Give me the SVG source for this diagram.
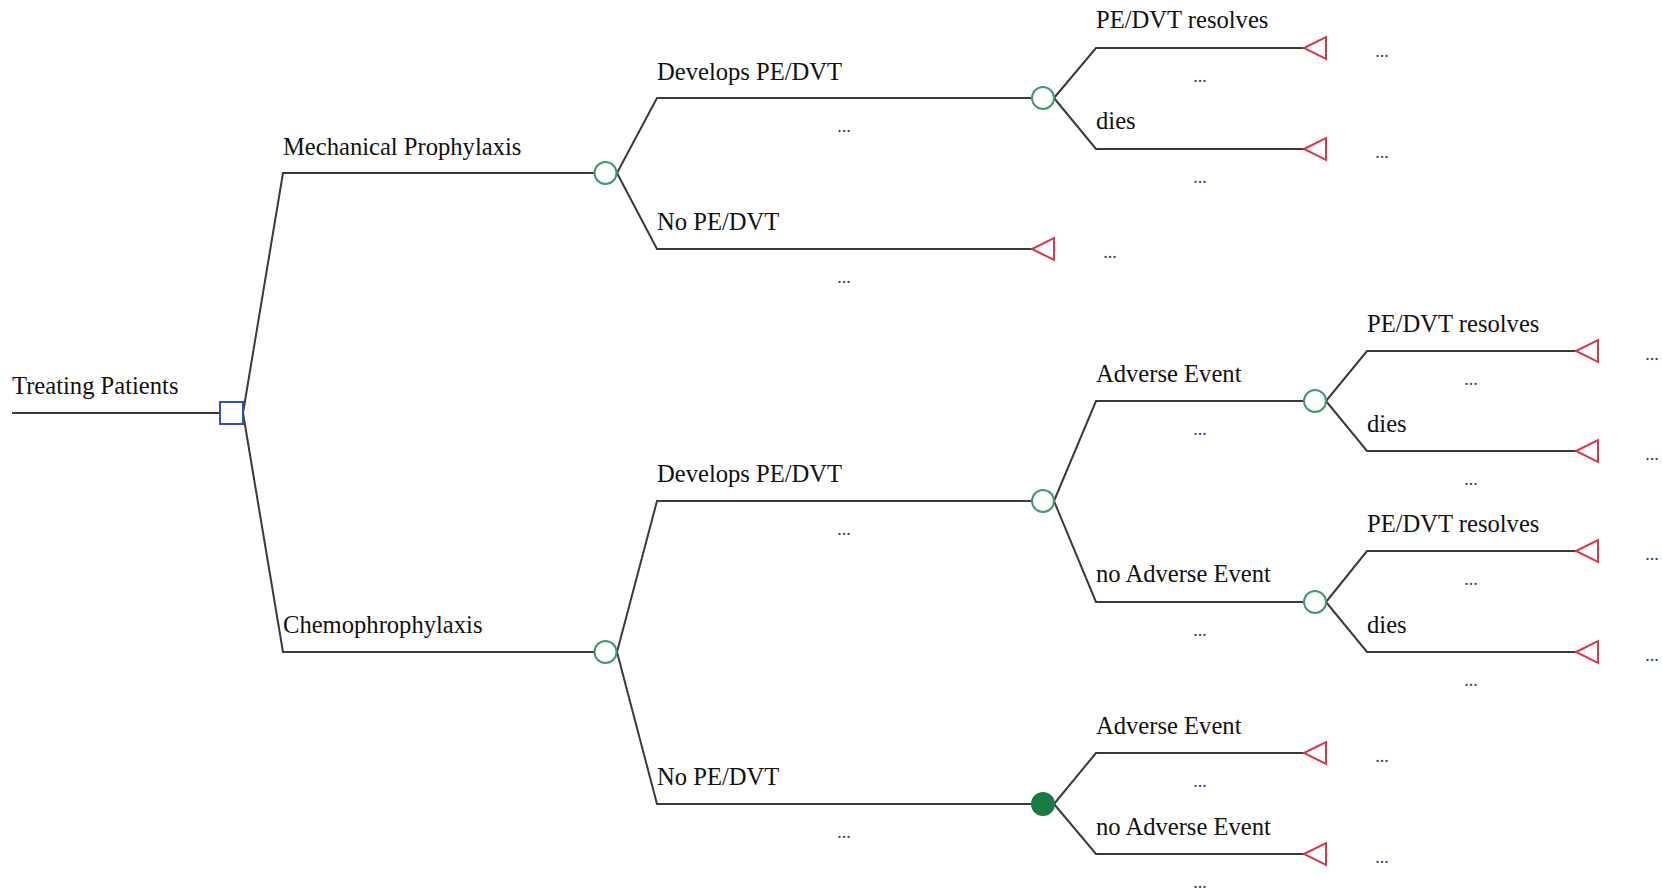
<svg xmlns="http://www.w3.org/2000/svg" width="1662" height="893" viewBox="0 0 1662 893">
  <style>
    .edge { fill: none; stroke: #3a3a3a; stroke-width: 2; stroke-linejoin: miter; }
    .decision { fill: #ffffff; stroke: #2b55b0; stroke-width: 2; }
    .chance { fill: #ffffff; stroke: #3d9a6c; stroke-width: 2; }
    .chance-fixed { fill: #197a45; stroke: #197a45; stroke-width: 2; }
    .terminal { fill: #ffffff; stroke: #d6394c; stroke-width: 2; stroke-linejoin: miter; }
    .label { font-family: "Liberation Serif", "Times New Roman", serif; font-size: 24.6px; fill: #111111; }
    .dots { font-family: "Liberation Serif", "Times New Roman", serif; font-size: 18px; fill: #2f3f5f; text-anchor: middle; }
  </style>
  <defs>
    <polygon id="tri" points="0,0 22,-11 22,11"/>
  </defs>
  <rect width="1662" height="893" fill="#ffffff"/>

  <!-- branches -->
  <g id="connectors">
    <path class="edge" d="M12,413 H220"/>
    <path class="edge" d="M243,413 L283,173 H594"/>
    <path class="edge" d="M243,413 L283,652 H594"/>
    <path class="edge" d="M617,173 L657,98 H1032"/>
    <path class="edge" d="M617,173 L657,249 H1032"/>
    <path class="edge" d="M617,652 L657,501 H1032"/>
    <path class="edge" d="M617,652 L657,804 H1032"/>
    <path class="edge" d="M1054,98 L1096,48 H1304"/>
    <path class="edge" d="M1054,98 L1096,149 H1304"/>
    <path class="edge" d="M1054,501 L1096,401 H1304"/>
    <path class="edge" d="M1054,501 L1096,602 H1304"/>
    <path class="edge" d="M1054,804 L1096,753 H1304"/>
    <path class="edge" d="M1054,804 L1096,854 H1304"/>
    <path class="edge" d="M1326,401 L1367,351 H1576"/>
    <path class="edge" d="M1326,401 L1367,451 H1576"/>
    <path class="edge" d="M1326,602 L1367,551 H1576"/>
    <path class="edge" d="M1326,602 L1367,652 H1576"/>
  </g>

  <!-- branch labels -->
  <g id="branch-labels">
    <text class="label" x="12" y="394">Treating Patients</text>
    <text class="label" x="283" y="155">Mechanical Prophylaxis</text>
    <text class="label" x="283" y="633">Chemophrophylaxis</text>
    <text class="label" x="657" y="80">Develops PE/DVT</text>
    <text class="label" x="657" y="230">No PE/DVT</text>
    <text class="label" x="657" y="482">Develops PE/DVT</text>
    <text class="label" x="657" y="785">No PE/DVT</text>
    <text class="label" x="1096" y="28">PE/DVT resolves</text>
    <text class="label" x="1096" y="129">dies</text>
    <text class="label" x="1096" y="382">Adverse Event</text>
    <text class="label" x="1096" y="582">no Adverse Event</text>
    <text class="label" x="1096" y="734">Adverse Event</text>
    <text class="label" x="1096" y="835">no Adverse Event</text>
    <text class="label" x="1367" y="332">PE/DVT resolves</text>
    <text class="label" x="1367" y="432">dies</text>
    <text class="label" x="1367" y="532">PE/DVT resolves</text>
    <text class="label" x="1367" y="633">dies</text>
  </g>

  <!-- placeholder values under branches -->
  <g id="branch-values">
    <text class="dots" x="844" y="132">...</text>
    <text class="dots" x="844" y="283">...</text>
    <text class="dots" x="844" y="535">...</text>
    <text class="dots" x="844" y="838">...</text>
    <text class="dots" x="1200" y="82">...</text>
    <text class="dots" x="1200" y="183">...</text>
    <text class="dots" x="1200" y="435">...</text>
    <text class="dots" x="1200" y="636">...</text>
    <text class="dots" x="1200" y="787">...</text>
    <text class="dots" x="1200" y="888">...</text>
    <text class="dots" x="1471" y="385">...</text>
    <text class="dots" x="1471" y="485">...</text>
    <text class="dots" x="1471" y="585">...</text>
    <text class="dots" x="1471" y="686">...</text>
  </g>

  <!-- decision node -->
  <g id="node-root">
    <rect class="decision" x="220" y="402" width="23" height="22"/>
  </g>

  <!-- chance nodes -->
  <g id="node-mechanical"><circle class="chance" cx="605.5" cy="173" r="11"/></g>
  <g id="node-chemo"><circle class="chance" cx="605.5" cy="652" r="11"/></g>
  <g id="node-mech-develops"><circle class="chance" cx="1043" cy="98" r="11"/></g>
  <g id="node-chemo-develops"><circle class="chance" cx="1043" cy="501" r="11"/></g>
  <g id="node-chemo-none"><circle class="chance-fixed" cx="1043" cy="804" r="11"/></g>
  <g id="node-chemo-dev-adverse"><circle class="chance" cx="1315" cy="401" r="11"/></g>
  <g id="node-chemo-dev-noadverse"><circle class="chance" cx="1315" cy="602" r="11"/></g>

  <!-- terminal nodes with payoff placeholders -->
  <g id="term-mech-none">
    <use href="#tri" class="terminal" x="1032" y="249"/>
    <text class="dots" x="1110" y="258">...</text>
  </g>
  <g id="term-mech-dev-resolves">
    <use href="#tri" class="terminal" x="1304" y="48"/>
    <text class="dots" x="1382" y="57">...</text>
  </g>
  <g id="term-mech-dev-dies">
    <use href="#tri" class="terminal" x="1304" y="149"/>
    <text class="dots" x="1382" y="158">...</text>
  </g>
  <g id="term-chemo-none-adverse">
    <use href="#tri" class="terminal" x="1304" y="753"/>
    <text class="dots" x="1382" y="762">...</text>
  </g>
  <g id="term-chemo-none-noadverse">
    <use href="#tri" class="terminal" x="1304" y="854"/>
    <text class="dots" x="1382" y="863">...</text>
  </g>
  <g id="term-adv-resolves">
    <use href="#tri" class="terminal" x="1576" y="351"/>
    <text class="dots" x="1652" y="360">...</text>
  </g>
  <g id="term-adv-dies">
    <use href="#tri" class="terminal" x="1576" y="451"/>
    <text class="dots" x="1652" y="460">...</text>
  </g>
  <g id="term-noadv-resolves">
    <use href="#tri" class="terminal" x="1576" y="551"/>
    <text class="dots" x="1652" y="560">...</text>
  </g>
  <g id="term-noadv-dies">
    <use href="#tri" class="terminal" x="1576" y="652"/>
    <text class="dots" x="1652" y="661">...</text>
  </g>
</svg>
